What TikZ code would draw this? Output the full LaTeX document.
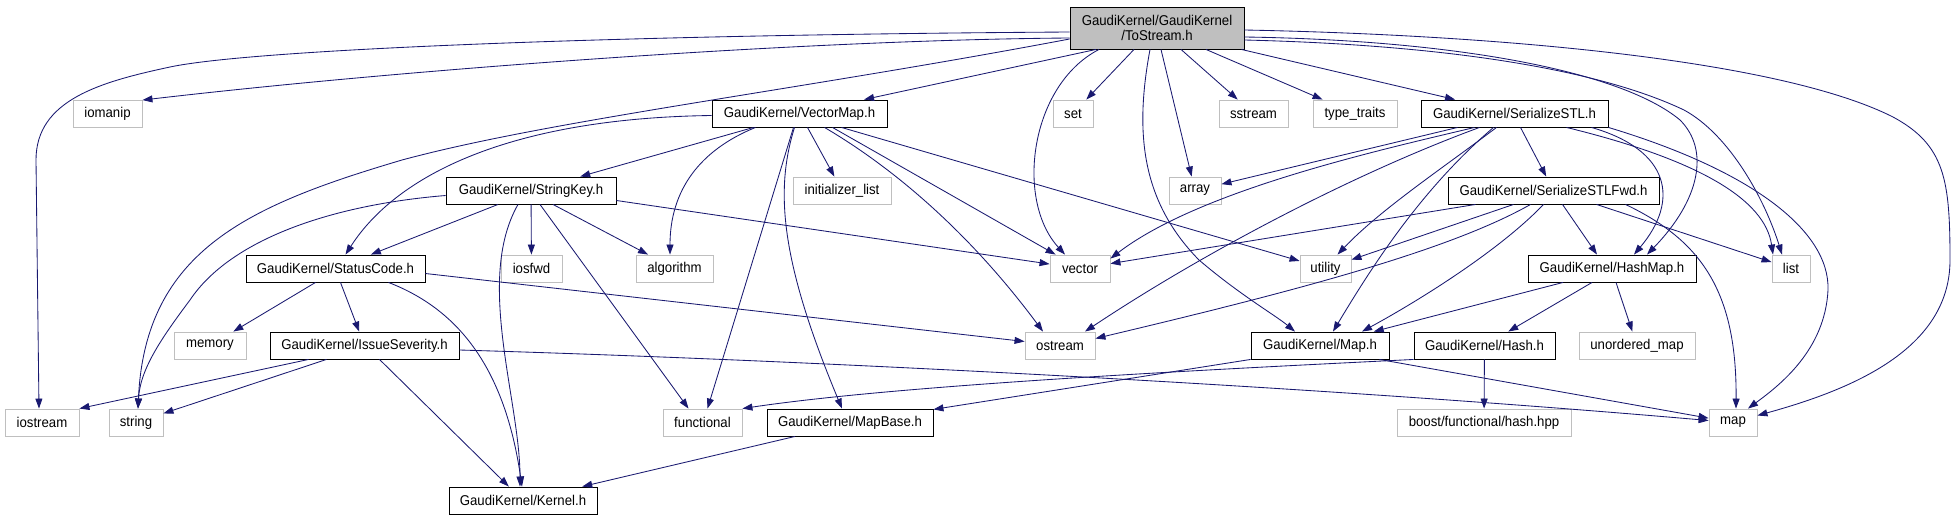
\documentclass[tikz,border=0pt]{standalone}
\usepackage{fontspec}
\newfontfamily\doxfont[FakeStretch=0.93]{Liberation Sans}
\usetikzlibrary{arrows.meta}
\definecolor{edgec}{RGB}{25,25,112}
\definecolor{boxgray}{RGB}{191,191,191}
\tikzset{
  base/.style={rectangle, inner sep=0pt, minimum height=27pt, text=black, font=\doxfont\fontsize{14.2}{15}\selectfont},
  bx/.style={base, draw=black, line width=0.9pt},
  gx/.style={base, draw=boxgray, line width=0.9pt},
  e/.style={draw=edgec, line width=0.85pt, -{Triangle[length=10pt,width=7pt]}},
}
\begin{document}
\begin{tikzpicture}[x=1pt,y=-1pt]
\useasboundingbox (0,0) rectangle (1955,520);
% nodes
\node[bx, fill=boxgray, minimum width=174pt, minimum height=42pt, align=center] (tostream) at (1157,28) {GaudiKernel/GaudiKernel\\/ToStream.h};
\node[gx, minimum width=69pt] (iomanip) at (107.5,114) {iomanip};
\node[bx, minimum width=175pt] (vectormap) at (799.5,113.5) {GaudiKernel/VectorMap.h};
\node[gx, minimum width=40pt] (set) at (1073,113.5) {set};
\node[gx, minimum width=69pt] (sstream) at (1253.5,113.5) {sstream};
\node[gx, minimum width=84pt] (typetraits) at (1355,113.5) {type\_traits};
\node[bx, minimum width=187pt] (sstl) at (1514.5,113.5) {GaudiKernel/SerializeSTL.h};
\node[bx, minimum width=170pt] (stringkey) at (531,190.5) {GaudiKernel/StringKey.h};
\node[gx, minimum width=98pt] (initlist) at (842,190.5) {initializer\_list};
\node[gx, minimum width=52pt] (array) at (1195,190.5) {array};
\node[bx, minimum width=211pt] (sstlfwd) at (1553.5,190.5) {GaudiKernel/SerializeSTLFwd.h};
\node[bx, minimum width=179pt] (statuscode) at (335.5,268.5) {GaudiKernel/StatusCode.h};
\node[gx, minimum width=61pt] (iosfwd) at (531.5,268.5) {iosfwd};
\node[gx, minimum width=77pt] (algorithm) at (674.5,268.5) {algorithm};
\node[gx, minimum width=60pt] (vector) at (1080,268.5) {vector};
\node[gx, minimum width=51pt] (utility) at (1325.5,268.5) {utility};
\node[bx, minimum width=168pt] (hashmap) at (1612,268.5) {GaudiKernel/HashMap.h};
\node[gx, minimum width=38pt] (list) at (1791,268.5) {list};
\node[gx, minimum width=72pt] (memory) at (210,345.5) {memory};
\node[bx, minimum width=189pt] (issue) at (364.5,345.5) {GaudiKernel/IssueSeverity.h};
\node[gx, minimum width=70pt] (ostream) at (1060,345.5) {ostream};
\node[bx, minimum width=138pt] (maph) at (1320,345.5) {GaudiKernel/Map.h};
\node[bx, minimum width=141pt] (hashh) at (1484.5,345.5) {GaudiKernel/Hash.h};
\node[gx, minimum width=116pt] (umap) at (1637,345.5) {unordered\_map};
\node[gx, minimum width=74pt] (iostream) at (42,422.5) {iostream};
\node[gx, minimum width=54pt] (string) at (136,422.5) {string};
\node[gx, minimum width=79pt] (functional) at (702.5,422.5) {functional};
\node[bx, minimum width=166pt] (mapbase) at (850,422.5) {GaudiKernel/MapBase.h};
\node[gx, minimum width=174pt] (boost) at (1484,422.5) {boost/functional/hash.hpp};
\node[gx, minimum width=48pt] (map) at (1733,422.5) {map};
\node[bx, minimum width=148pt] (kernel) at (523,500.5) {GaudiKernel/Kernel.h};
% ToStream edges
\draw[e] ([yshift=-10pt]tostream.west) .. controls (800,40) and (400,70) .. (iomanip.north east);
\draw[e] ([yshift=-4pt]tostream.west) .. controls (600,35) and (250,50) .. (170,67) .. controls (100,82) and (36,100) .. (36,160) -- ([xshift=-3pt]iostream.north);
\draw[e] ([yshift=-11pt]tostream.west) .. controls (800,90) and (550,120) .. (402,160) .. controls (250,205) and (145,250) .. ([xshift=2pt]string.north);
\draw[e] ([xshift=-61pt]tostream.south) -- (vectormap);
\draw[e] ([xshift=-23pt]tostream.south) -- (set);
\draw[e] ([xshift=24pt]tostream.south) -- (sstream);
\draw[e] ([xshift=49pt]tostream.south) -- (typetraits);
\draw[e] ([xshift=-3pt]tostream.south east) -- (sstl);
\draw[e] ([xshift=-58pt]tostream.south) .. controls (1030,85) and (1015,200) .. ([xshift=-15pt]vector.north);
\draw[e] ([xshift=4pt]tostream.south) -- (array);
\draw[e] ([xshift=-7pt]tostream.south) .. controls (1135,130) and (1140,200) .. (1199,260) .. controls (1240,295) and (1275,315) .. ([xshift=-25pt]maph.north);
\draw[e] ([yshift=-9pt]tostream.east) .. controls (1450,40) and (1620,70) .. (1680,120) .. controls (1710,150) and (1700,200) .. ([xshift=35pt]hashmap.north);
\draw[e] ([yshift=-12pt]tostream.east) .. controls (1450,45) and (1600,70) .. (1684,110) .. controls (1730,135) and (1765,200) .. ([xshift=-9pt]list.north);
\draw[e] ([yshift=-2pt]tostream.east) .. controls (1500,35) and (1780,60) .. (1893,117) .. controls (1945,145) and (1950,180) .. (1950,260) .. controls (1950,350) and (1850,390) .. ([yshift=7pt]map.east);
% VectorMap edges
\draw[e] ([yshift=-2pt]vectormap.west) .. controls (520,118) and (400,170) .. ([xshift=10pt]statuscode.north);
\draw[e] ([xshift=-46pt]vectormap.south) -- (stringkey);
\draw[e] ([xshift=-44pt]vectormap.south) .. controls (700,150) and (670,190) .. ([xshift=-4.5pt]algorithm.north);
\draw[e] ([xshift=8pt]vectormap.south) -- (initlist);
\draw[e] ([xshift=-6pt]vectormap.south) -- ([xshift=5pt]functional.north);
\draw[e] ([xshift=-5pt]vectormap.south) .. controls (775,190) and (780,260) .. ([xshift=-8pt]mapbase.north);
\draw[e] ([xshift=25pt]vectormap.south) .. controls (880,160) and (960,220) .. ([xshift=-17pt]ostream.north);
\draw[e] ([xshift=33pt]vectormap.south) -- (vector);
\draw[e] ([xshift=42pt]vectormap.south) -- (utility);
% StringKey edges
\draw[e] ([xshift=-33pt]stringkey.south) -- (statuscode);
\draw[e] ([yshift=-5pt]stringkey.west) .. controls (330,205) and (230,240) .. (190,300) .. controls (160,340) and (140,370) .. ([xshift=2pt]string.north);
\draw[e] (stringkey) -- (iosfwd);
\draw[e] ([xshift=22pt]stringkey.south) -- (algorithm);
\draw[e] ([xshift=9pt]stringkey.south) -- ([xshift=-14pt]functional.north);
\draw[e] ([xshift=-13pt]stringkey.south) .. controls (475,280) and (520,400) .. ([xshift=-3pt]kernel.north);
\draw[e] ([yshift=-10pt]stringkey.east) -- (vector);
% StatusCode edges
\draw[e] ([xshift=-20pt]statuscode.south) -- (memory);
\draw[e] ([xshift=5pt]statuscode.south) -- (issue);
\draw[e] ([xshift=53pt]statuscode.south) .. controls (460,310) and (505,370) .. ([xshift=-1pt]kernel.north);
\draw[e] ([yshift=-5pt]statuscode.east) -- (ostream);
% IssueSeverity edges
\draw[e] ([xshift=-56pt]issue.south) -- (iostream.north east);
\draw[e] ([xshift=-38pt]issue.south) -- (string);
\draw[e] ([xshift=15pt]issue.south) -- (kernel);
\draw[e] ([yshift=-4.5pt]issue.east) .. controls (800,360) and (1300,385) .. ([yshift=2pt]map.west);
% MapBase
\draw[e] ([xshift=-55pt]mapbase.south) -- (kernel);
% Map.h
\draw[e] (maph.south west) -- (mapbase);
\draw[e] ([xshift=-10pt]maph.south east) -- (map);
% Hash.h
\draw[e] (hashh.south west) .. controls (1200,370) and (900,385) .. (functional.north east);
\draw[e] (hashh) -- (boost);
% HashMap
\draw[e] ([xshift=-49pt]hashmap.south) -- (maph);
\draw[e] ([xshift=-20pt]hashmap.south) -- (hashh);
\draw[e] ([xshift=4pt]hashmap.south) -- (umap);
% SerializeSTL
\draw[e] ([xshift=-57pt]sstl.south) -- (array);
\draw[e] ([xshift=-40pt]sstl.south) .. controls (1380,150) and (1200,190) .. ([yshift=-4pt]vector.north east);
\draw[e] ([xshift=-35pt]sstl.south) .. controls (1350,175) and (1200,255) .. ([xshift=25pt]ostream.north);
\draw[e] ([xshift=-18pt]sstl.south) .. controls (1440,170) and (1380,210) .. ([xshift=12pt]utility.north);
\draw[e] ([xshift=-21pt]sstl.south) .. controls (1420,190) and (1370,270) .. ([xshift=13pt]maph.north);
\draw[e] ([xshift=6pt]sstl.south) -- (sstlfwd);
\draw[e] ([xshift=52pt]sstl.south) .. controls (1700,160) and (1765,200) .. ([xshift=-18pt]list.north);
\draw[e] ([xshift=77pt]sstl.south) .. controls (1670,150) and (1680,200) .. ([xshift=22pt]hashmap.north);
\draw[e] (sstl.south east) .. controls (1750,170) and (1830,230) .. (1828,290) .. controls (1825,350) and (1780,385) .. ([xshift=15pt]map.north);
% SerializeSTLFwd
\draw[e] ([xshift=-78pt]sstlfwd.south) -- (vector);
\draw[e] ([xshift=-40pt]sstlfwd.south) -- (utility);
\draw[e] ([xshift=-23pt]sstlfwd.south) .. controls (1450,250) and (1300,290) .. ([yshift=7pt]ostream.east);
\draw[e] ([xshift=-10pt]sstlfwd.south) .. controls (1500,250) and (1420,300) .. ([xshift=42pt]maph.north);
\draw[e] ([xshift=9pt]sstlfwd.south) -- ([xshift=-15pt]hashmap.north);
\draw[e] ([xshift=43pt]sstlfwd.south) -- (list);
\draw[e] ([xshift=72pt]sstlfwd.south) .. controls (1700,240) and (1737,290) .. ([xshift=3pt]map.north);
\end{tikzpicture}
\end{document}
